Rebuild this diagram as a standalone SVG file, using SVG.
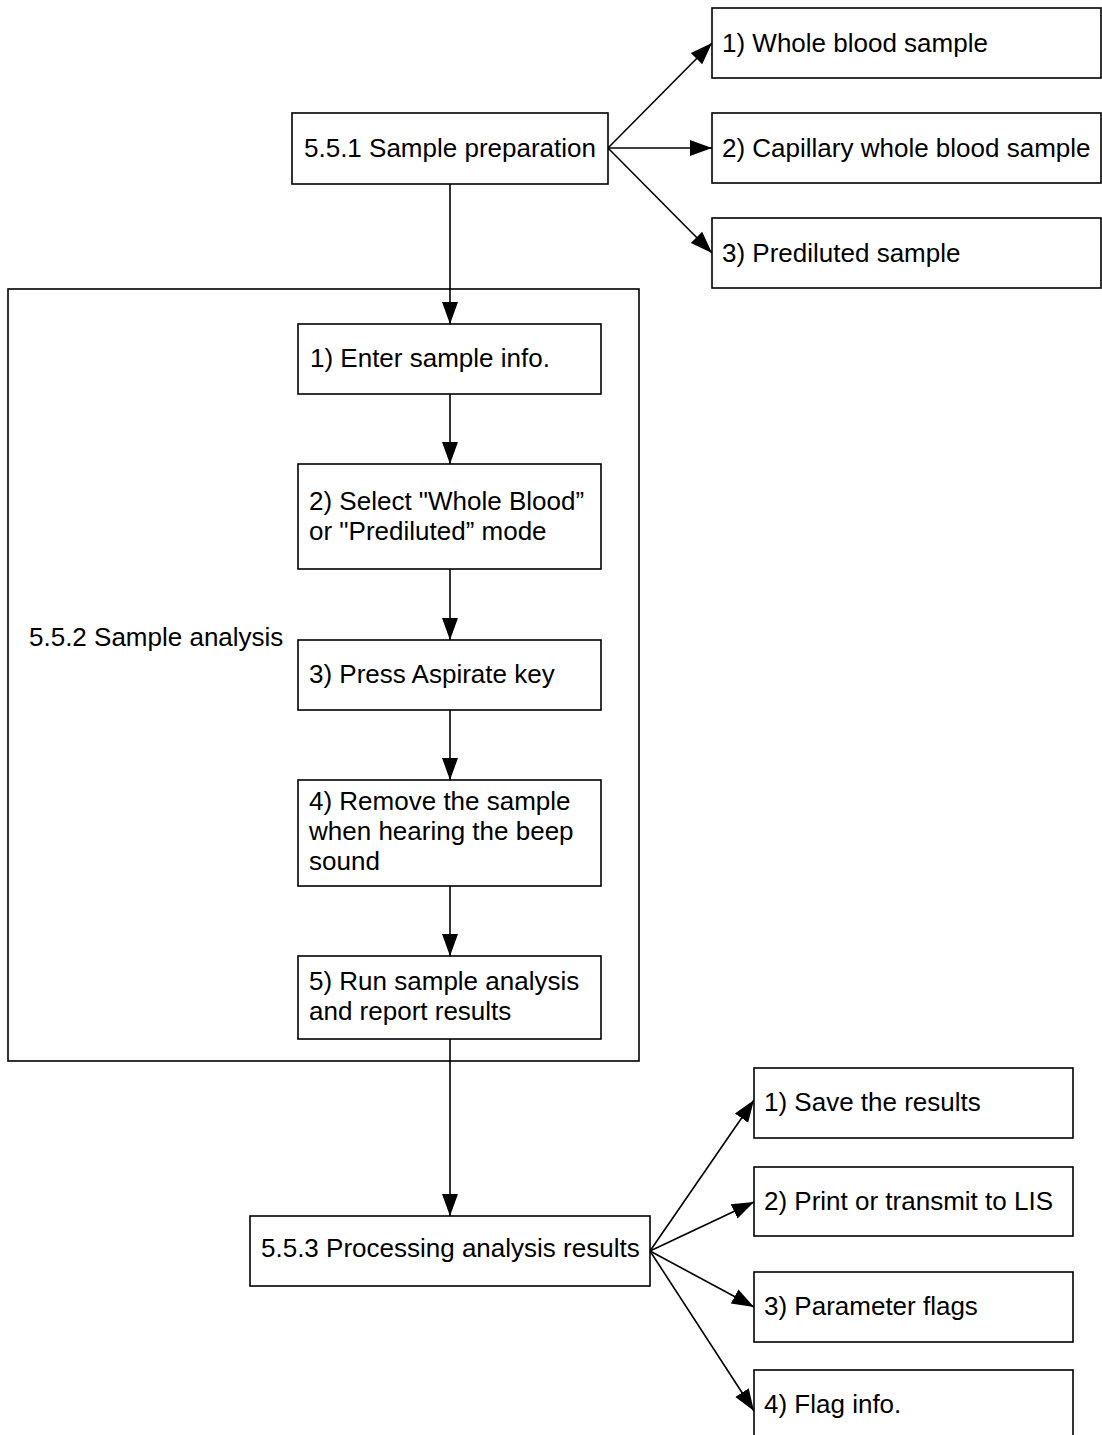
<svg xmlns="http://www.w3.org/2000/svg" width="1102" height="1435" viewBox="0 0 1102 1435">
<style>
.box{fill:#fff;stroke:#000;stroke-width:1.6}
.frame{fill:none;stroke:#000;stroke-width:1.6}
.t{font-family:"Liberation Sans",Arial,sans-serif;font-size:26px;fill:#000}
.c{fill:none;stroke:#000;stroke-width:1.6}
</style>
<defs>
<marker id="ah" markerUnits="userSpaceOnUse" markerWidth="24" markerHeight="18" viewBox="0 0 24 18" refX="22" refY="9" orient="auto">
<path d="M0,1 L22,9 L0,17 Z" fill="#000"/>
</marker>
</defs>
<rect width="1102" height="1435" fill="#fff"/>
<g id="container-552">
<rect class="frame" x="8" y="289" width="631" height="772"/>
<text class="t" x="29" y="646">5.5.2 Sample analysis</text>
</g>
<g id="connectors">
<line class="c" x1="608" y1="148" x2="712" y2="43" marker-end="url(#ah)"/>
<line class="c" x1="608" y1="148" x2="712" y2="148" marker-end="url(#ah)"/>
<line class="c" x1="608" y1="148" x2="712" y2="253" marker-end="url(#ah)"/>
<line class="c" x1="450" y1="184" x2="450" y2="324" marker-end="url(#ah)"/>
<line class="c" x1="450" y1="394" x2="450" y2="464" marker-end="url(#ah)"/>
<line class="c" x1="450" y1="569" x2="450" y2="640" marker-end="url(#ah)"/>
<line class="c" x1="450" y1="710" x2="450" y2="780" marker-end="url(#ah)"/>
<line class="c" x1="450" y1="886" x2="450" y2="956" marker-end="url(#ah)"/>
<line class="c" x1="450" y1="1039" x2="450" y2="1216" marker-end="url(#ah)"/>
<line class="c" x1="650" y1="1251" x2="754" y2="1100" marker-end="url(#ah)"/>
<line class="c" x1="650" y1="1251" x2="754" y2="1202" marker-end="url(#ah)"/>
<line class="c" x1="650" y1="1251" x2="754" y2="1307" marker-end="url(#ah)"/>
<line class="c" x1="650" y1="1251" x2="754" y2="1411" marker-end="url(#ah)"/>
</g>
<g id="n-551">
<rect class="box" x="292" y="113" width="316" height="71"/>
<text class="t" x="304" y="157">5.5.1 Sample preparation</text>
</g>
<g id="n-whole">
<rect class="box" x="712" y="8" width="389" height="70"/>
<text class="t" x="722" y="52">1) Whole blood sample</text>
</g>
<g id="n-capillary">
<rect class="box" x="712" y="113" width="389" height="70"/>
<text class="t" x="722" y="157">2) Capillary whole blood sample</text>
</g>
<g id="n-prediluted">
<rect class="box" x="712" y="218" width="389" height="70"/>
<text class="t" x="722" y="262">3) Prediluted sample</text>
</g>
<g id="n-step1">
<rect class="box" x="298" y="324" width="303" height="70"/>
<text class="t" x="310" y="367">1) Enter sample info.</text>
</g>
<g id="n-step2">
<rect class="box" x="298" y="464" width="303" height="105"/>
<text class="t" x="309" y="510">2) Select "Whole Blood”</text>
<text class="t" x="309" y="540">or "Prediluted” mode</text>
</g>
<g id="n-step3">
<rect class="box" x="298" y="640" width="303" height="70"/>
<text class="t" x="309" y="683">3) Press Aspirate key</text>
</g>
<g id="n-step4">
<rect class="box" x="298" y="780" width="303" height="106"/>
<text class="t" x="309" y="810">4) Remove the sample</text>
<text class="t" x="309" y="840">when hearing the beep</text>
<text class="t" x="309" y="870">sound</text>
</g>
<g id="n-step5">
<rect class="box" x="298" y="956" width="303" height="83"/>
<text class="t" x="309" y="990">5) Run sample analysis</text>
<text class="t" x="309" y="1020">and report results</text>
</g>
<g id="n-553">
<rect class="box" x="250" y="1216" width="400" height="70"/>
<text class="t" x="261" y="1257">5.5.3 Processing analysis results</text>
</g>
<g id="n-save">
<rect class="box" x="754" y="1068" width="319" height="70"/>
<text class="t" x="764" y="1111">1) Save the results</text>
</g>
<g id="n-print">
<rect class="box" x="754" y="1167" width="319" height="69"/>
<text class="t" x="764" y="1210">2) Print or transmit to LIS</text>
</g>
<g id="n-paramflags">
<rect class="box" x="754" y="1272" width="319" height="70"/>
<text class="t" x="764" y="1315">3) Parameter flags</text>
</g>
<g id="n-flaginfo">
<rect class="box" x="754" y="1370" width="319" height="80"/>
<text class="t" x="764" y="1413">4) Flag info.</text>
</g>
</svg>
